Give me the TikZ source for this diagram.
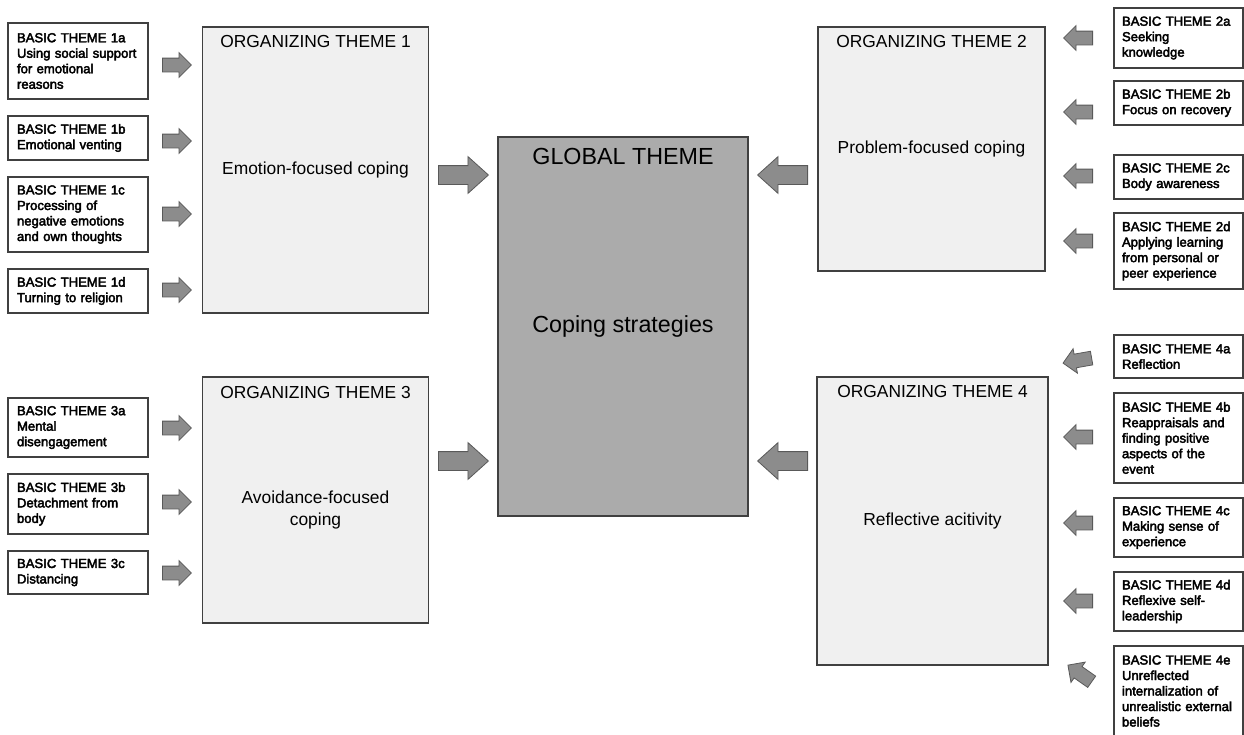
\documentclass[tikz,border=0pt]{standalone}
\usepackage{fontspec}
\setmainfont{Liberation Sans}
\newfontfamily\basicfont[FakeBold=3]{Liberation Sans}
\usepackage{tikz}
\usetikzlibrary{shapes, arrows, positioning}
\hyphenpenalty=10000
\exhyphenpenalty=10000
\tikzstyle{basic} = [draw=black!75, line width=1.2pt, rectangle, fill=white,
    align=left, inner ysep=0pt, font=\basicfont\fontsize{13.1}{15.5}\selectfont]
\tikzstyle{leftbasic} = [basic, inner xsep=9pt, text width=122pt]
\tikzstyle{rightbasic} = [basic, inner xsep=8pt, text width=113pt]
\tikzstyle{organizing} = [draw=black!75, line width=1.2pt, rectangle, fill=black!6,
    align=center, font=\fontsize{17.4}{21.5}\selectfont]
\tikzstyle{globalbox} = [organizing, fill=black!33, font=\fontsize{23.3}{28}\selectfont]
\tikzstyle{orgtitle} = [anchor=base, inner sep=0pt, font=\fontsize{17.4}{21}\selectfont]
\tikzstyle{smallarrow} = [single arrow, draw=black!65, fill=black!45, line width=0.8pt,
    anchor=tail, minimum height=29pt, inner sep=6.5pt, single arrow head extend=5.5pt]
\tikzstyle{bigarrow} = [single arrow, draw=black!65, fill=black!45, line width=0.8pt,
    anchor=tail, minimum height=50pt, inner sep=9pt, single arrow head extend=9pt,
    single arrow tip angle=84]

\begin{document}
\begin{tikzpicture}[x=1pt, y=-1pt]
        \useasboundingbox (0,0) rectangle (1244,734);
        \clip (0,0) rectangle (1244,734);

        % global and organizing themes
        \node[globalbox, minimum width=250pt, minimum height=379pt] at (623,326.5) (globalT) {Coping strategies};
        \node[orgtitle, font=\fontsize{23.3}{28}\selectfont] at ([yshift=-28pt]globalT.north) (globalTitle) {GLOBAL THEME};
        \node[organizing, minimum width=226pt, minimum height=286pt] at (315.5,170) (org1) {Emotion-focused coping};
        \node[organizing, minimum width=227pt, minimum height=244pt] at (931.5,149) (org2) {Problem-focused coping};
        \node[organizing, minimum width=226pt, minimum height=246pt] at (315.5,500) (org3) {\rule{0pt}{33pt}Avoidance-focused\\coping};
        \node[organizing, minimum width=231pt, minimum height=288pt] at (932.5,521) (org4) {Reflective acitivity};
        \node[orgtitle] at ([yshift=-21pt]org1.north) (title1) {ORGANIZING THEME 1};
        \node[orgtitle] at ([yshift=-21pt]org2.north) (title2) {ORGANIZING THEME 2};
        \node[orgtitle] at ([yshift=-22pt]org3.north) (title3) {ORGANIZING THEME 3};
        \node[orgtitle] at ([yshift=-21pt]org4.north) (title4) {ORGANIZING THEME 4};

        % basic themes, left
        \node[leftbasic, minimum height=76pt] at (78,61) (basic1a) {BASIC THEME 1a\\Using social support\\for emotional\\reasons};
        \node[leftbasic, minimum height=44pt] at (78,138) (basic1b) {BASIC THEME 1b\\Emotional venting};
        \node[leftbasic, minimum height=75pt] at (78,214.5) (basic1c) {BASIC THEME 1c\\Processing of\\negative emotions\\and own thoughts};
        \node[leftbasic, minimum height=44pt] at (78,291) (basic1d) {BASIC THEME 1d\\Turning to religion};
        \node[leftbasic, minimum height=59pt] at (78,427.5) (basic3a) {BASIC THEME 3a\\Mental\\disengagement};
        \node[leftbasic, minimum height=60pt] at (78,504) (basic3b) {BASIC THEME 3b\\Detachment from\\body};
        \node[leftbasic, minimum height=43pt] at (78,572.5) (basic3c) {BASIC THEME 3c\\Distancing};

        % basic themes, right
        \node[rightbasic, minimum height=60pt] at (1178.5,38) (basic2a) {BASIC THEME 2a\\Seeking\\knowledge};
        \node[rightbasic, minimum height=44pt] at (1178.5,103) (basic2b) {BASIC THEME 2b\\Focus on recovery};
        \node[rightbasic, minimum height=44pt] at (1178.5,177) (basic2c) {BASIC THEME 2c\\Body awareness};
        \node[rightbasic, minimum height=76pt] at (1178.5,251) (basic2d) {BASIC THEME 2d\\Applying learning\\from personal or\\peer experience};
        \node[rightbasic, minimum height=43pt] at (1178.5,356.5) (basic4a) {BASIC THEME 4a\\Reflection};
        \node[rightbasic, minimum height=90pt] at (1178.5,438) (basic4b) {BASIC THEME 4b\\Reappraisals and\\finding positive\\aspects of the\\event};
        \node[rightbasic, minimum height=59pt] at (1178.5,527.5) (basic4c) {BASIC THEME 4c\\Making sense of\\experience};
        \node[rightbasic, minimum height=59pt] at (1178.5,601.5) (basic4d) {BASIC THEME 4d\\Reflexive self-\\leadership};
        \node[rightbasic, minimum height=90pt] at (1178.5,691) (basic4e) {BASIC THEME 4e\\Unreflected\\internalization of\\unrealistic~external\\beliefs};

        % block arrows, placed by their tails
        \node[smallarrow] at (162,65) (arr1a) {};
        \node[smallarrow] at (162,141) (arr1b) {};
        \node[smallarrow] at (162,214) (arr1c) {};
        \node[smallarrow] at (162,290) (arr1d) {};
        \node[smallarrow] at (162,428) (arr3a) {};
        \node[smallarrow] at (162,502) (arr3b) {};
        \node[smallarrow] at (162,573) (arr3c) {};
        \node[smallarrow, shape border rotate=180] at (1093,38) (arr2a) {};
        \node[smallarrow, shape border rotate=180] at (1093,112) (arr2b) {};
        \node[smallarrow, shape border rotate=180] at (1093,176) (arr2c) {};
        \node[smallarrow, shape border rotate=180] at (1093,241) (arr2d) {};
        \node[smallarrow, shape border rotate=180, rotate=10] at (1092,358) (arr4a) {};
        \node[smallarrow, shape border rotate=180] at (1093,437) (arr4b) {};
        \node[smallarrow, shape border rotate=180] at (1093,523) (arr4c) {};
        \node[smallarrow, shape border rotate=180] at (1093,601) (arr4d) {};
        \node[smallarrow, shape border rotate=180, rotate=-35] at (1092,682) (arr4e) {};
        \node[bigarrow] at (438,175) (arrOrg1) {};
        \node[bigarrow] at (438,461) (arrOrg3) {};
        \node[bigarrow, shape border rotate=180] at (808,175) (arrOrg2) {};
        \node[bigarrow, shape border rotate=180] at (808,461) (arrOrg4) {};
    \end{tikzpicture}
\end{document}
